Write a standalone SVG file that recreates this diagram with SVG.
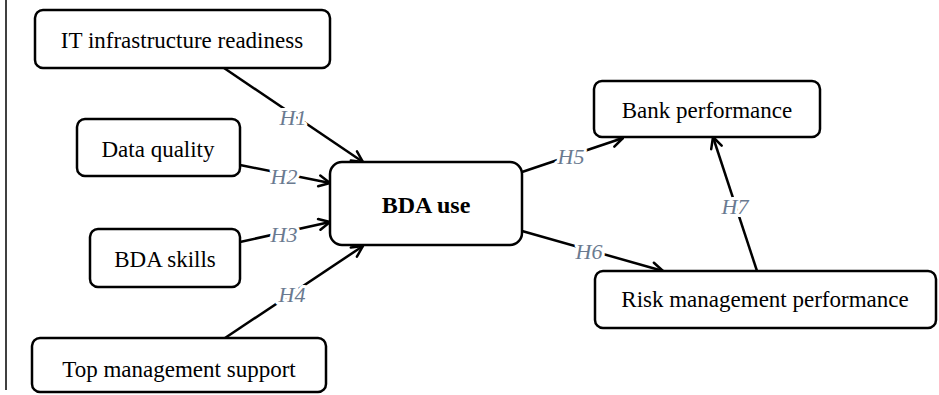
<svg xmlns="http://www.w3.org/2000/svg" width="939" height="395" viewBox="0 0 939 395">
<style>
.box{fill:#fff;stroke:#000;stroke-width:2.5}
.t{font-family:'Liberation Serif','Times New Roman','DejaVu Serif',serif;font-size:23px;fill:#000;text-anchor:middle}
.b{font-weight:bold;font-size:24px}
.c{stroke:#000;stroke-width:2.5;fill:none;marker-end:url(#ah)}
.h{font-family:'Liberation Serif','Times New Roman','DejaVu Serif',serif;font-style:italic;font-size:22px;fill:#6a7a90;text-anchor:middle;stroke:#fff;stroke-width:6;paint-order:stroke;stroke-linejoin:round}
</style>
<defs>
<marker id="ah" viewBox="0 0 14 14" refX="13" refY="7" markerWidth="14" markerHeight="14" markerUnits="userSpaceOnUse" orient="auto">
<polyline points="2,1.5 13,7 2,12.5" fill="none" stroke="#000" stroke-width="2.5" stroke-linecap="round" stroke-linejoin="round"/>
</marker>
</defs>
<rect width="939" height="395" fill="#fff"/>
<line x1="6" y1="0" x2="6" y2="390" stroke="#000" stroke-width="1.5"/>
<g id="connectors">
<path class="c" d="M224,68 L363,162"/>
<path class="c" d="M240,165 L330,183"/>
<path class="c" d="M240,242 L330,222"/>
<path class="c" d="M225,338 L363,246"/>
<path class="c" d="M522,172 L623,138"/>
<path class="c" d="M522,231 L663,271"/>
<path class="c" d="M757,271 L713,137"/>
<text class="h" x="293" y="125">H1</text>
<text class="h" x="284" y="184">H2</text>
<text class="h" x="284" y="242">H3</text>
<text class="h" x="292" y="302">H4</text>
<text class="h" x="571" y="164">H5</text>
<text class="h" x="589" y="259">H6</text>
<text class="h" x="735" y="214">H7</text>
</g>
<g id="it"><rect class="box" x="35" y="10" width="295" height="58" rx="8"/><text class="t" x="182" y="48">IT infrastructure readiness</text></g>
<g id="dq"><rect class="box" x="77" y="119" width="163" height="57" rx="8"/><text class="t" x="158" y="157">Data quality</text></g>
<g id="skills"><rect class="box" x="90" y="229" width="150" height="58" rx="8"/><text class="t" x="165" y="267">BDA skills</text></g>
<g id="top"><rect class="box" x="32" y="338" width="294" height="54" rx="8"/><text class="t" x="179" y="377">Top management support</text></g>
<g id="bda"><rect class="box" x="330" y="162" width="192" height="83" rx="12"/><text class="t b" x="426" y="213">BDA use</text></g>
<g id="bank"><rect class="box" x="594" y="81" width="226" height="56" rx="8"/><text class="t" x="707" y="118">Bank performance</text></g>
<g id="risk"><rect class="box" x="595" y="271" width="341" height="57" rx="8"/><text class="t" x="765" y="307">Risk management performance</text></g>
</svg>
